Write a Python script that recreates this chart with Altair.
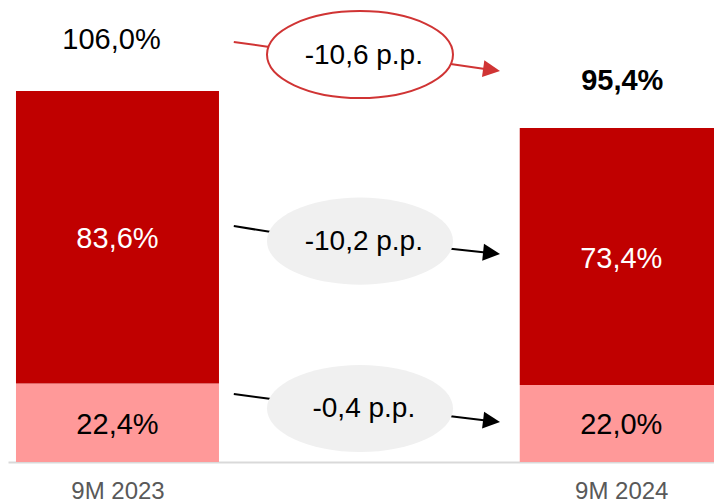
import math
import altair as alt
import pandas as pd

# ---------------- data ----------------
periods = ["9M 2023", "9M 2024"]
period_pos = [0, 1]
base_share = [22.4, 22.0]      # light segment (bottom)
main_share = [83.6, 73.4]      # dark segment (top)
totals = [106.0, 95.4]
change_labels = ["-10,6 p.p.", "-10,2 p.p.", "-0,4 p.p."]
change_kind = ["total", "segment", "segment"]

# ---------------- layout (data units) ----------------
W, H, PAD_B = 706, 454, 42
X_DOMAIN = [-0.2074, 1.1742]   # period index
Y_DOMAIN = [0, 129.71]         # percent
PX_PER_X = W / (X_DOMAIN[1] - X_DOMAIN[0])
PX_PER_Y = H / (Y_DOMAIN[1] - Y_DOMAIN[0])

ellipse_x = [0.4814, 0.4814, 0.4814]
ellipse_y = [116.4, 63.1, 15.3]
text_x = [0.489, 0.489, 0.489]
# arrows: left stub (x1,y1,x2,y2) and right shaft (x1,y1) -> tip (x2,y2)
left_stub = [(0.2309, 120.0, 0.3014, 118.6),
             (0.2309, 67.4, 0.3053, 65.7),
             (0.2309, 19.4, 0.3053, 18.0)]
right_arrow = [(0.6614, 113.7, 0.7593, 111.7),
               (0.6614, 60.9, 0.7593, 59.4),
               (0.6614, 13.1, 0.7593, 11.4)]

DARK = "#C00000"
LIGHT = "#FF9999"
RED_LINE = "#D03434"
GRAY_FILL = "#F0F0F0"
FONT = "Liberation Sans"

# ---------------- tables ----------------
rows = []
for p, pos, b, m in zip(periods, period_pos, base_share, main_share):
    rows.append(dict(period=p, pos=pos, seg="base", y0=0, y1=b, mid=b / 2,
                     label=f"{b:.1f}".replace(".", ",") + "%", tcolor="black"))
    rows.append(dict(period=p, pos=pos, seg="main", y0=b, y1=b + m, mid=b + m / 2,
                     label=f"{m:.1f}".replace(".", ",") + "%", tcolor="white"))
seg_df = pd.DataFrame(rows)

tot_df = pd.DataFrame(dict(period=periods, pos=period_pos, total=totals,
                           label=[f"{t:.1f}".replace(".", ",") + "%" for t in totals]))

ann_rows = []
for i, lab in enumerate(change_labels):
    lx1, ly1, lx2, ly2 = left_stub[i]
    rx1, ry1, rx2, ry2 = right_arrow[i]
    ang = math.degrees(math.atan2((ry1 - ry2) * PX_PER_Y, (rx2 - rx1) * PX_PER_X))
    frac = 1 - 10 / ((rx2 - rx1) * PX_PER_X)
    ann_rows.append(dict(label=lab, kind=change_kind[i],
                         lcolor=RED_LINE if change_kind[i] == "total" else "black",
                         ex=ellipse_x[i], ey=ellipse_y[i], tx=text_x[i],
                         lx1=lx1, ly1=ly1, lx2=lx2, ly2=ly2,
                         rx1=rx1, ry1=ry1,
                         rx2=rx1 + (rx2 - rx1) * frac, ry2=ry1 + (ry2 - ry1) * frac,
                         tipx=rx2, tipy=ry2, ang=ang))
ann_df = pd.DataFrame(ann_rows)

# ---------------- encodings ----------------
XS = alt.Scale(domain=X_DOMAIN, nice=False, zero=False)
YS = alt.Scale(domain=Y_DOMAIN, nice=False, zero=False)
label_js = "[" + ",".join(f"'{p}'" for p in periods) + "][datum.value]"
XA = alt.Axis(values=period_pos, labelExpr=label_js, title=None, grid=False,
              ticks=False, labelFontSize=24, labelFont=FONT, labelColor="#595959",
              labelPadding=17, domainColor="#D9D9D9", domainWidth=2,
              labelAngle=0)


def X(f):
    return alt.X(f"{f}:Q", scale=XS, axis=XA)


def Y(f):
    return alt.Y(f"{f}:Q", scale=YS, axis=None)


bars = alt.Chart(seg_df).mark_bar(size=203).encode(
    x=X("pos"), y=Y("y0"), y2="y1",
    color=alt.Color("seg:N", scale=alt.Scale(domain=["base", "main"], range=[LIGHT, DARK]),
                    legend=None),
)

seg_text = alt.Chart(seg_df).mark_text(font=FONT, fontSize=29, baseline="middle",
                                       align="center", dy=2).encode(
    x=X("pos"), y=Y("mid"), text="label:N",
    color=alt.Color("tcolor:N", scale=None),
)

tot1 = alt.Chart(tot_df).transform_filter(alt.datum.pos == 0).mark_text(
    font=FONT, fontSize=29, baseline="middle", align="center", dy=-51, dx=-6,
    color="black").encode(x=X("pos"), y=Y("total"), text="label:N")
tot2 = alt.Chart(tot_df).transform_filter(alt.datum.pos == 1).mark_text(
    font=FONT, fontSize=29, fontWeight="bold", baseline="middle", align="center",
    dy=-47.5, dx=1, color="black").encode(x=X("pos"), y=Y("total"), text="label:N")

RY = 0.468
K = 0.5523
ell_path = (f"M -1 0 C -1 {-K*RY:.4f} {-K:.4f} {-RY} 0 {-RY} "
            f"C {K:.4f} {-RY} 1 {-K*RY:.4f} 1 0 "
            f"C 1 {K*RY:.4f} {K:.4f} {RY} 0 {RY} "
            f"C {-K:.4f} {RY} -1 {K*RY:.4f} -1 0 Z")
ELL_SIZE = 186 ** 2

ell_gray = alt.Chart(ann_df).transform_filter(alt.datum.kind == "segment").mark_point(
    shape=ell_path, size=ELL_SIZE, filled=True, fill=GRAY_FILL, opacity=1,
    strokeWidth=0).encode(x=X("ex"), y=Y("ey"))
ell_red = alt.Chart(ann_df).transform_filter(alt.datum.kind == "total").mark_point(
    shape=ell_path, size=ELL_SIZE, filled=False, fill="white", fillOpacity=1,
    stroke=RED_LINE, strokeWidth=2, opacity=1).encode(x=X("ex"), y=Y("ey"))

line_color = alt.Color("lcolor:N", scale=None)
stubs = alt.Chart(ann_df).mark_rule(strokeWidth=2).encode(
    x=X("lx1"), y=Y("ly1"), x2="lx2", y2="ly2", color=line_color)
shafts = alt.Chart(ann_df).mark_rule(strokeWidth=2).encode(
    x=X("rx1"), y=Y("ry1"), x2="rx2", y2="ry2", color=line_color)
head_path = "M 0 0 L -1 -0.5 L -1 0.5 Z"
heads = alt.Chart(ann_df).mark_point(shape=head_path, size=17 ** 2 * 4, filled=True,
                                     opacity=1, strokeWidth=0).encode(
    x=X("tipx"), y=Y("tipy"), angle=alt.Angle("ang:Q", scale=None),
    color=line_color)

ann_text = alt.Chart(ann_df).mark_text(font=FONT, fontSize=28, baseline="middle",
                                       align="center", color="black", dy=1).encode(
    x=X("tx"), y=Y("ey"), text="label:N")

chart = alt.layer(bars, seg_text, tot1, tot2, stubs, shafts, heads,
                  ell_gray, ell_red, ann_text).properties(
    width=W, height=H,
    autosize=alt.AutoSizeParams(type="none"),
    padding={"left": 0, "top": 0, "right": 0, "bottom": PAD_B},
).configure_view(stroke=None)

chart.save("out.html", embed_options={"renderer": "svg", "actions": False})
